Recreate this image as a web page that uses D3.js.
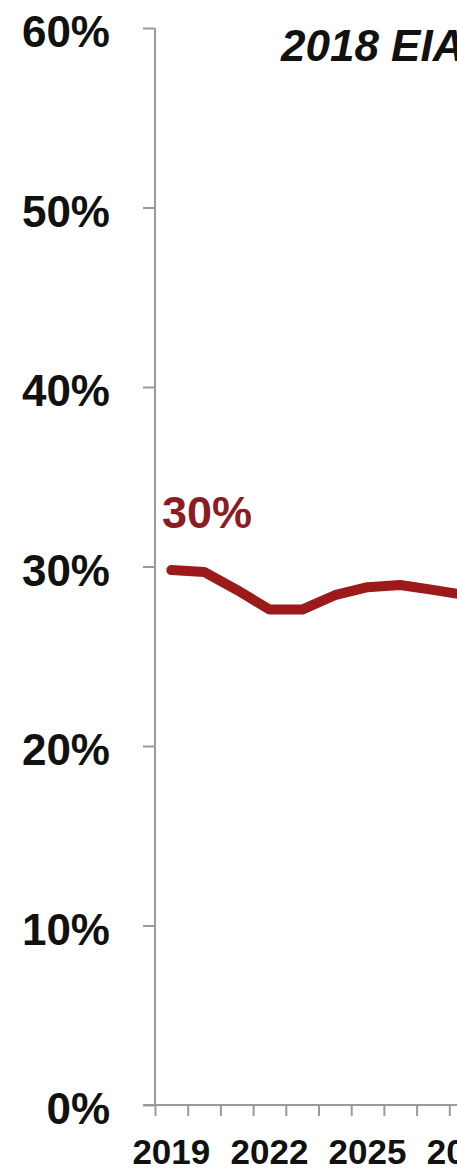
<!DOCTYPE html>
<html>
<head>
<meta charset="utf-8">
<script src="https://cdn.jsdelivr.net/npm/d3@7"></script>
<style>
  body { margin: 0; background: #fff; overflow: hidden; }
  text { font-family: "Liberation Sans", Arial, sans-serif; font-weight: bold; }
</style>
</head>
<body>
<div id="wrapper"></div>
<script>
// data
const years = [2019, 2020, 2021, 2022, 2023, 2024, 2025, 2026, 2027, 2028]
const share = [29.8, 29.7, 28.7, 27.6, 27.6, 28.4, 28.85, 28.97, 28.7, 28.4]
const yTicks = [0, 10, 20, 30, 40, 50, 60]
const xLabelYears = [2019, 2022, 2025, 2028]
const title = "2018 EIA Reference Case"
const startLabel = "30%"

const data = years.map((y, i) => ({ year: y, value: share[i] }))

const width = 457
const height = 1174

const svg = d3.select("#wrapper")
  .append("svg")
  .attr("width", width)
  .attr("height", height)

// scales: one year = ~32.7px, axis line sits at 2018.5
const xScale = d3.scaleLinear()
  .domain([2018.5, 2028.5])
  .range([155, 482])

const yScale = d3.scaleLinear()
  .domain([0, 60])
  .range([1105, 28])

const axisColor = "#9a9a9a"

// y axis
const yAxis = svg.append("g")
  .attr("transform", `translate(${xScale(2018.5)},0)`)
  .call(d3.axisLeft(yScale).tickValues(yTicks).tickSize(12).tickFormat(""))
yAxis.select(".domain").remove()
yAxis.selectAll("line").attr("stroke", axisColor).attr("stroke-width", 2)
yAxis.append("line")
  .attr("y1", yScale(60)).attr("y2", yScale(0))
  .attr("stroke", axisColor).attr("stroke-width", 2)

svg.append("g").selectAll("text")
  .data(yTicks)
  .join("text")
    .attr("x", 110)
    .attr("y", d => yScale(d) + 19)
    .attr("text-anchor", "end")
    .attr("fill", "#111")
    .style("font-size", "44px")
    .text(d => d + "%")

// x axis, ticks on year boundaries
const boundaries = d3.range(2018.5, 2029, 1)
const xAxis = svg.append("g")
  .attr("transform", `translate(0,${yScale(0)})`)
  .call(d3.axisBottom(xScale).tickValues(boundaries).tickSize(11).tickFormat(""))
xAxis.select(".domain").remove()
xAxis.selectAll("line").attr("stroke", axisColor).attr("stroke-width", 2)
xAxis.append("line")
  .attr("x1", 143).attr("x2", width + 40)
  .attr("stroke", axisColor).attr("stroke-width", 2)

svg.append("g").selectAll("text")
  .data(xLabelYears)
  .join("text")
    .attr("x", d => xScale(d))
    .attr("y", 1164)
    .attr("text-anchor", "middle")
    .attr("fill", "#111")
    .style("font-size", "35px")
    .text(d => d)

// line
const line = d3.line()
  .x(d => xScale(d.year))
  .y(d => yScale(d.value))

svg.append("path")
  .datum(data)
  .attr("d", line)
  .attr("fill", "none")
  .attr("stroke", "#9c1a1a")
  .attr("stroke-width", 10)
  .attr("stroke-linecap", "round")
  .attr("stroke-linejoin", "round")

svg.append("text")
  .attr("x", 162)
  .attr("y", 528)
  .attr("fill", "#8c1c24")
  .style("font-size", "45px")
  .text(startLabel)

svg.append("text")
  .attr("x", 281)
  .attr("y", 61)
  .attr("fill", "#111")
  .style("font-size", "44px")
  .style("font-style", "italic")
  .text(title)
</script>
</body>
</html>
